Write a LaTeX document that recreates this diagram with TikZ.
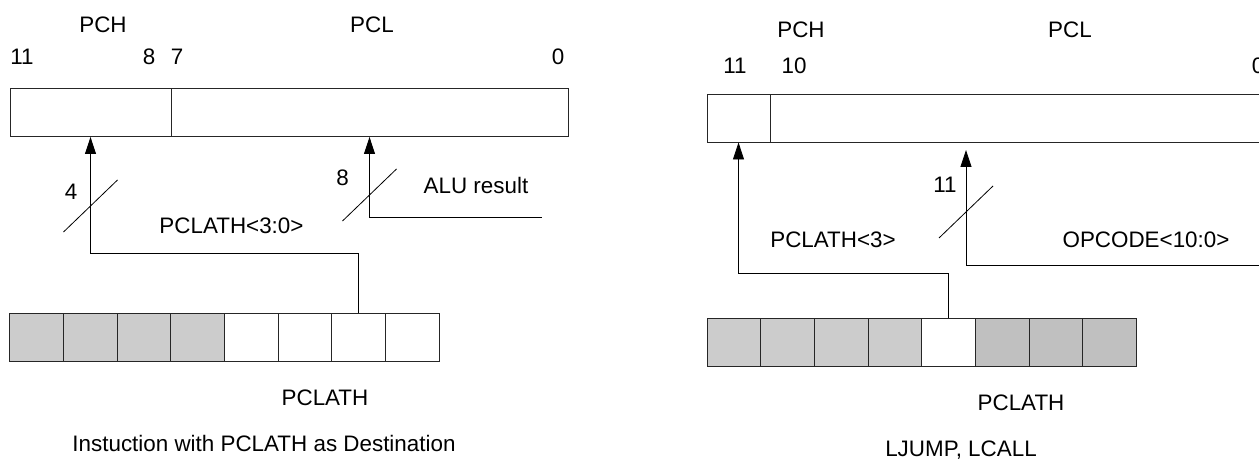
\documentclass[tikz,border=0pt]{standalone}
\usepackage{fontspec}
\setmainfont{Liberation Sans}
\usetikzlibrary{arrows.meta}
\definecolor{cellgray}{HTML}{CCCCCC}
\definecolor{celldark}{HTML}{C0C0C0}

\begin{document}
\begin{tikzpicture}[>={Triangle[length=17pt,width=11pt]},x=1pt,y=-1pt,
		every node/.style={font=\fontsize{22.4}{26}\selectfont},
		reg/.style={draw=black!85,line width=0.9pt,minimum height=48pt,inner sep=0pt},
		cell/.style={reg,minimum width=53.7pt},
		bus/.style={line width=0.8pt}]
		\useasboundingbox (0,0) rectangle (1259,462);
		% instruction with PCLATH as destination
		\node[reg,minimum width=161pt] (pch) at (90.5,112.5) {};
		\node[reg,minimum width=397pt] (pcl) at (369.5,112.5) {};
		\node at (103,25) {PCH};
		\node at (372,25) {PCL};
		\node at (22,57) {11};
		\node at (149,57) {8};
		\node at (177,57) {7};
		\node at (558,57) {0};
		\foreach \i/\c in {1/cellgray,2/cellgray,3/cellgray,4/cellgray,5/white,6/white,7/white,8/white}
			\node[cell,fill=\c] (la\i) at ({9.6+53.7*(\i-0.5)},337) {};
		\coordinate (lj) at (90.5,253);
		\coordinate (alu) at (541.5,217);
		\draw[bus,->] (la7.north) |- (lj) -- (pch.south);
		\draw[bus,->] (alu) -| (pcl.south);
		\coordinate (s1) at (90.5,206);
		\coordinate (s2) at (369.5,195);
		\draw[bus] (s1) +(-27,26) -- +(27,-26);
		\draw[bus] (s2) +(-27,26) -- +(27,-26);
		\node at (71,192) {4};
		\node at (342.5,178) {8};
		\node at (231.5,226) {PCLATH<3:0>};
		\node at (476,185) {ALU result};
		\node at (325,398) {PCLATH};
		\node at (264,443) {Instuction with PCLATH as Destination};
		% LJUMP, LCALL
		\node[reg,minimum width=63pt] (rpch) at (738.5,118) {};
		\node[reg,minimum width=498pt] (rpcl) at (1019,118) {};
		\node at (801,30) {PCH};
		\node at (1070,30) {PCL};
		\node at (735,66) {11};
		\node at (794,66) {10};
		\node at (1258,66) {0};
		\foreach \i/\c in {1/cellgray,2/cellgray,3/cellgray,4/cellgray,5/white,6/celldark,7/celldark,8/celldark}
			\node[cell,fill=\c] (ra\i) at ({707+53.7*(\i-0.5)},342) {};
		\coordinate (rj) at (738.5,273);
		\coordinate (op) at (1270,265);
		\coordinate (optip) at (966,150);
		\draw[bus,->] (ra5.north) |- (rj) -- (rpch.south);
		\draw[bus,->] (op) -| (optip);
		\coordinate (s3) at (966,212);
		\draw[bus] (s3) +(-27,26) -- +(27,-26);
		\node at (945,185) {11};
		\node at (833,240) {PCLATH<3>};
		\node at (1146,240) {OPCODE<10:0>};
		\node at (1021,403) {PCLATH};
		\node at (961,450) {LJUMP, LCALL};
	\end{tikzpicture}
\end{document}
